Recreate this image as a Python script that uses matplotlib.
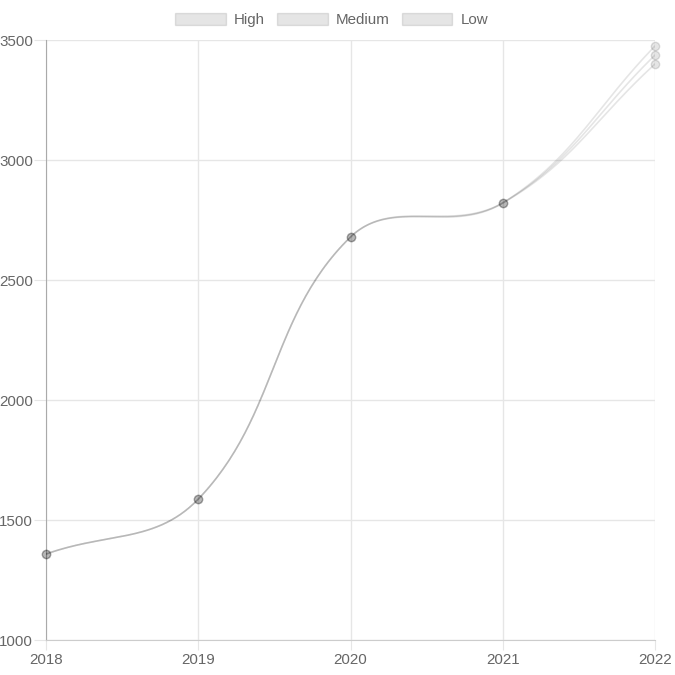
import numpy as np
import matplotlib.pyplot as plt
from matplotlib.patches import Patch

plt.rcParams['font.family'] = ['Liberation Sans', 'DejaVu Sans']

# --- datos ---
years = [2018, 2019, 2020, 2021, 2022]
high = [1358, 1587, 2679, 2821, 3475]
medium = [1358, 1587, 2679, 2821, 3437]
low = [1358, 1587, 2679, 2821, 3400]
series_names = ['High', 'Medium', 'Low']
y_ticks = [1000, 1500, 2000, 2500, 3000, 3500]

TENSION = 0.4
FS = 10.9  # tamaño de letra (pt)


def spline_chartjs(xs, ys, sx, sy, tension=TENSION, n=60):
    """Curva tipo Chart.js (splineCurve) en espacio de pixeles, devuelta en datos."""
    px = np.array(xs, float) * sx
    py = np.array(ys, float) * sy
    m = len(px)
    cp_prev, cp_next = [], []
    for i in range(m):
        p0 = (px[max(i - 1, 0)], py[max(i - 1, 0)])
        p1 = (px[i], py[i])
        p2 = (px[min(i + 1, m - 1)], py[min(i + 1, m - 1)])
        d01 = np.hypot(p1[0] - p0[0], p1[1] - p0[1])
        d12 = np.hypot(p2[0] - p1[0], p2[1] - p1[1])
        s01 = d01 / (d01 + d12) if d01 + d12 else 0
        s12 = d12 / (d01 + d12) if d01 + d12 else 0
        fa, fb = tension * s01, tension * s12
        cp_prev.append((p1[0] - fa * (p2[0] - p0[0]), p1[1] - fa * (p2[1] - p0[1])))
        cp_next.append((p1[0] + fb * (p2[0] - p0[0]), p1[1] + fb * (p2[1] - p0[1])))
    out_x, out_y = [], []
    t = np.linspace(0, 1, n)
    for i in range(m - 1):
        P0 = np.array([px[i], py[i]])
        P1 = np.array(cp_next[i])
        P2 = np.array(cp_prev[i + 1])
        P3 = np.array([px[i + 1], py[i + 1]])
        b = ((1 - t) ** 3)[:, None] * P0 + (3 * (1 - t) ** 2 * t)[:, None] * P1 \
            + (3 * (1 - t) * t ** 2)[:, None] * P2 + (t ** 3)[:, None] * P3
        out_x.extend(b[:, 0])
        out_y.extend(b[:, 1])
    return np.array(out_x) / sx, np.array(out_y) / sy


fig = plt.figure(figsize=(6.75, 6.75), dpi=100)
ax = fig.add_axes([46 / 675, 1 - 640 / 675, 609 / 675, 600 / 675])

# escala en pixeles por unidad (para la curva)
sx = 609 / (years[-1] - years[0])
sy = 600 / (y_ticks[-1] - y_ticks[0])

line_col = (0, 0, 0, 0.1)
for vals in [high, medium, low]:
    cx, cy = spline_chartjs(years, vals, sx, sy)
    ax.plot(cx, cy, color=line_col, lw=1.2, zorder=3, solid_capstyle='round')
    ax.scatter(years, vals, s=36, facecolor=(0, 0, 0, 0.1), edgecolor=(0, 0, 0, 0.12),
               linewidth=1, zorder=4, clip_on=False)

ax.set_xlim(years[0], years[-1])
ax.set_ylim(y_ticks[0], y_ticks[-1])
ax.set_xticks(years)
ax.set_yticks(y_ticks)
ax.grid(True, color='#e6e6e6', lw=1)
ax.set_axisbelow(True)
ax.tick_params(axis='both', color='#e6e6e6', labelcolor='#666666', labelsize=FS)
ax.tick_params(axis='y', length=9, pad=0.5)
ax.tick_params(axis='x', length=7.5, pad=1.5)
for s in ['top', 'right']:
    ax.spines[s].set_visible(False)
ax.spines['left'].set_color('#aaaaaa')
ax.spines['bottom'].set_color('#cccccc')

handles = [Patch(facecolor=(0, 0, 0, 0.1), edgecolor=(0, 0, 0, 0.1), lw=1) for _ in series_names]
fig.legend(handles, series_names, loc='center', bbox_to_anchor=(0.5 - 6 / 675, 1 - 20 / 675), ncol=3,
           frameon=False, fontsize=FS, handlelength=3.35, handleheight=0.86,
           handletextpad=0.53, columnspacing=0.8, labelcolor='#666666',
           borderpad=0, borderaxespad=0)

fig.savefig('out.png', dpi=100)
